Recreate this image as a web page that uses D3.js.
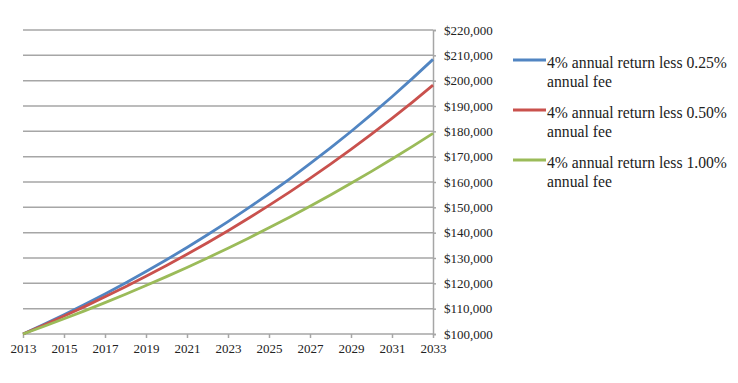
<!DOCTYPE html>
<html>
<head>
<meta charset="utf-8">
<script src="https://cdn.jsdelivr.net/npm/d3@7"></script>
<style>
  html, body { margin: 0; padding: 0; background: #fff; }
  svg { display: block; }
  text { font-family: "Liberation Serif", "Times New Roman", serif; fill: #222; }
</style>
</head>
<body>
<svg id="chart" width="738" height="383"></svg>
<script>
const years = [2013,2014,2015,2016,2017,2018,2019,2020,2021,2022,2023,2024,2025,2026,2027,2028,2029,2030,2031,2032,2033];
const xTickYears = [2013,2015,2017,2019,2021,2023,2025,2027,2029,2031,2033];
const yTicks = [100000,110000,120000,130000,140000,150000,160000,170000,180000,190000,200000,210000,220000];

const fee025 = [100000,103740,107620,111645,115820,120152,124646,129308,134144,139161,144366,149765,155366,161177,167205,173458,179946,186675,193658,200900,208414];
const fee050 = [100000,103480,107081,110807,114663,118653,122782,127055,131476,136052,140786,145686,150756,156002,161431,167049,172862,178878,185103,191544,198210];
const fee100 = [100000,102960,106008,109146,112377,115703,119128,122654,126285,130023,133872,137834,141914,146115,150440,154894,159479,164200,169060,174064,179217];

const seriesNames = [
  ["4% annual return less 0.25%", "annual fee"],
  ["4% annual return less 0.50%", "annual fee"],
  ["4% annual return less 1.00%", "annual fee"]
];
const seriesColors = ["#5185c2", "#c9514d", "#9bbb59"];
const seriesValues = [fee025, fee050, fee100];

const svg = d3.select("#chart");
const pLeft = 23, pRight = 433, pTop = 30, pBottom = 334;

const x = d3.scaleLinear().domain([2013, 2033]).range([pLeft, pRight]);
const y = d3.scaleLinear().domain([100000, 220000]).range([pBottom, pTop]);

// gridlines
svg.append("g").selectAll("line").data(yTicks).join("line")
  .attr("x1", pLeft).attr("x2", pRight)
  .attr("y1", d => y(d)).attr("y2", d => y(d))
  .attr("stroke", "#a6a6a6").attr("stroke-width", 1.5);

// right axis
const yAxis = d3.axisRight(y).tickValues(yTicks).tickSize(3).tickPadding(8)
  .tickFormat(d => "$" + d3.format(",")(d));
const gy = svg.append("g").attr("transform", `translate(${pRight},0)`).call(yAxis);
gy.select(".domain").attr("stroke", "#a6a6a6").attr("stroke-width", 1.5);
gy.selectAll(".tick line").attr("stroke", "#a6a6a6").attr("stroke-width", 1.5);
gy.selectAll("text").attr("font-size", 13).attr("fill", "#1e1e1e")
  .attr("font-family", "Liberation Serif, Times New Roman, serif");

// bottom axis
const xAxis = d3.axisBottom(x).tickValues(xTickYears).tickSize(4).tickPadding(6)
  .tickFormat(d3.format("d"));
const gx = svg.append("g").attr("transform", `translate(0,${pBottom})`).call(xAxis);
gx.select(".domain").remove();
gx.selectAll(".tick line").attr("stroke", "#a6a6a6").attr("stroke-width", 1.5);
gx.selectAll("text").attr("font-size", 13).attr("fill", "#1e1e1e")
  .attr("font-family", "Liberation Serif, Times New Roman, serif");

// lines
const line = d3.line().x((d, i) => x(years[i])).y(d => y(d));
svg.append("g").selectAll("path").data(seriesValues).join("path")
  .attr("d", d => line(d))
  .attr("fill", "none")
  .attr("stroke", (d, i) => seriesColors[i])
  .attr("stroke-width", 2.8)
  .attr("stroke-linejoin", "round");

// legend
const lg = svg.append("g");
seriesNames.forEach((lines, i) => {
  const yy = 60 + i * 50;
  lg.append("line").attr("x1", 513).attr("x2", 546).attr("y1", yy).attr("y2", yy)
    .attr("stroke", seriesColors[i]).attr("stroke-width", 3);
  lines.forEach((t, j) => {
    lg.append("text").attr("x", 547).attr("y", yy + 8 + j * 18.5)
      .attr("font-size", 15.7).attr("fill", "#1e1e1e").text(t);
  });
});
</script>
</body>
</html>
